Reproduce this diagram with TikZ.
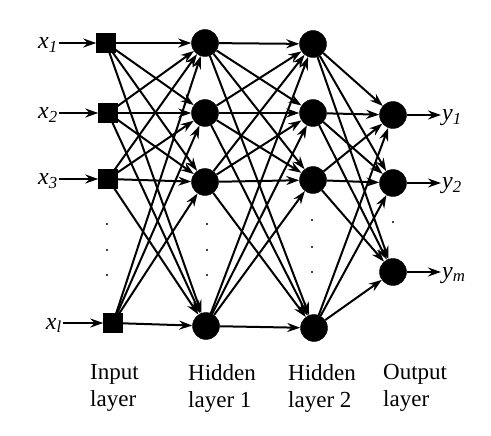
\documentclass[tikz,border=0pt]{standalone}
\usepackage{fontspec}
\setmainfont{Liberation Serif}
\usetikzlibrary{arrows.meta, positioning}

\tikzset{
    inp/.style={draw, rectangle, fill=black, minimum size=19pt, inner sep=0pt},
    neuron/.style={draw, circle, fill=black, minimum size=27pt, inner sep=0pt},
    conn/.style={line width=2pt, -{Stealth[length=13pt,width=9pt]}},
    varlbl/.style={font=\fontsize{24}{28}\selectfont\itshape, inner sep=1pt},
    layerlbl/.style={font=\fontsize{23}{27}\selectfont, align=left, inner sep=0pt, anchor=north west},
    vdot/.style={circle, fill=black, inner sep=0pt, minimum size=2.4pt}
}

\begin{document}
\begin{tikzpicture}[x=1pt, y=-1pt]

    \useasboundingbox (0,0) rectangle (491,436);

    % Input layer
    \node[inp] (i1) at (106,43) {};
    \node[inp] (i2) at (108,113) {};
    \node[inp] (i3) at (108,179) {};
    \node[inp] (il) at (113,323) {};

    % Hidden layer 1
    \node[neuron] (ha) at (205,43) {};
    \node[neuron] (hb) at (205,113) {};
    \node[neuron] (hc) at (205,182) {};
    \node[neuron] (hd) at (206,326) {};

    % Hidden layer 2
    \node[neuron] (ga) at (313,44) {};
    \node[neuron] (gb) at (313,113) {};
    \node[neuron] (gc) at (313,180) {};
    \node[neuron] (gd) at (314,328) {};

    % Output layer
    \node[neuron] (oa) at (393,115) {};
    \node[neuron] (ob) at (393,183) {};
    \node[neuron] (om) at (393,272) {};

    % Dots
    \foreach \y in {224,250,275} {
        \node[vdot] (di\y) at (107,\y) {};
        \node[vdot] (dh\y) at (207,\y) {};
    }
    \foreach \y in {220,247,272}
        \node[vdot] (dg\y) at (312,\y) {};
    \node[vdot] (do) at (393,222) {};

    % Connections
    \foreach \a in {i1,i2,i3,il}
        \foreach \b in {ha,hb,hc,hd}
            \draw[conn] (\a) -- (\b);
    \foreach \a in {ha,hb,hc,hd}
        \foreach \b in {ga,gb,gc,gd}
            \draw[conn] (\a) -- (\b);
    \foreach \a in {ga,gb,gc,gd}
        \foreach \b in {oa,ob,om}
            \draw[conn] (\a) -- (\b);

    % Inputs
    \node[varlbl, anchor=base east] (x1) at (59,49) {x\textsubscript{1}};
    \node[varlbl, anchor=base east] (x2) at (59,119) {x\textsubscript{2}};
    \node[varlbl, anchor=base east] (x3) at (59,185) {x\textsubscript{3}};
    \node[varlbl, anchor=base east] (xl) at (63,329) {x\textsubscript{l}};
    \draw[conn] (x1.east |- i1) -- (i1);
    \draw[conn] (x2.east |- i2) -- (i2);
    \draw[conn] (x3.east |- i3) -- (i3);
    \draw[conn] (xl.east |- il) -- (il);

    % Outputs
    \node[varlbl, anchor=base west] (y1) at (441,121) {y\textsubscript{1}};
    \node[varlbl, anchor=base west] (y2) at (441,189) {y\textsubscript{2}};
    \node[varlbl, anchor=base west] (ym) at (441,278) {y\textsubscript{m}};
    \draw[conn] (oa) -- (y1.west |- oa);
    \draw[conn] (ob) -- (y2.west |- ob);
    \draw[conn] (om) -- (ym.west |- om);

    % Layer names
    \node[layerlbl] (linp) at (90,364) {Input\\layer};
    \node[layerlbl] (lh1) at (188,364) {Hidden\\layer 1};
    \node[layerlbl] (lh2) at (288,364) {Hidden\\layer 2};
    \node[layerlbl] (lout) at (383,364) {Output\\layer};

\end{tikzpicture}
\end{document}
